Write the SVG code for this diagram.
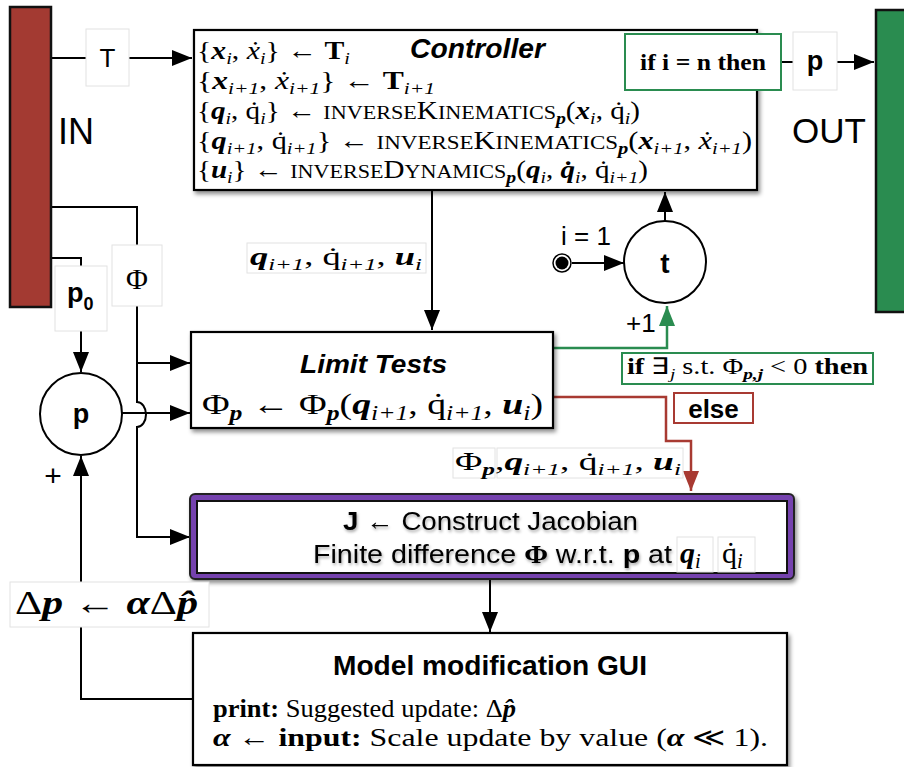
<svg xmlns="http://www.w3.org/2000/svg" width="904" height="767" viewBox="0 0 904 767">
<style>
.ln{fill:none;stroke:#000;stroke-width:2}
.box{fill:#fff;stroke:#000;stroke-width:2.2}
.lbl{fill:#fff;stroke:#e2e2e2;stroke-width:1}
.sans{font-family:"Liberation Sans",Arial,sans-serif}
.serif{font-family:"Liberation Serif","Times New Roman",serif}
.m{font-family:"Liberation Serif","Times New Roman",serif;fill:#000}
.bv{font-weight:bold;font-style:italic}
.it{font-style:italic}
.sb{font-size:0.68em;font-style:italic}
.sbb{font-size:0.68em;font-style:italic;font-weight:bold}
.sc{font-size:0.76em}
.b{font-weight:bold}
</style>
<defs>
<marker id="ah" viewBox="0 0 20 16" refX="20" refY="8" markerWidth="20" markerHeight="16" markerUnits="userSpaceOnUse" orient="auto"><path d="M0,0 L20,8 L0,16 z" fill="#000"/></marker>
<marker id="ahg" viewBox="0 0 20 16" refX="20" refY="8" markerWidth="20" markerHeight="16" markerUnits="userSpaceOnUse" orient="auto"><path d="M0,0 L20,8 L0,16 z" fill="#2A8C50"/></marker>
<marker id="ahr" viewBox="0 0 20 16" refX="20" refY="8" markerWidth="20" markerHeight="16" markerUnits="userSpaceOnUse" orient="auto"><path d="M0,0 L20,8 L0,16 z" fill="#A83A32"/></marker>
<filter id="sh" x="-5%" y="-10%" width="110%" height="130%"><feDropShadow dx="2" dy="3" stdDeviation="2" flood-color="#000" flood-opacity="0.45"/></filter>
<filter id="tsh" x="-5%" y="-20%" width="110%" height="150%"><feDropShadow dx="1" dy="2" stdDeviation="1.5" flood-color="#000" flood-opacity="0.35"/></filter>
</defs>

<g id="connectors">
  <path class="ln" d="M51,58 H86"/>
  <path class="ln" d="M129,58 H192" marker-end="url(#ah)"/>
  <path class="ln" d="M51,207 H137 V245"/>
  <path class="ln" d="M51,258 H81 V266"/>
  <path class="ln" d="M81,331 V372" marker-end="url(#ah)"/>
  <path class="ln" d="M137,306 V402 A9,12.5 0 0 1 137,427 V537 H190" marker-end="url(#ah)"/>
  <path class="ln" d="M137,363 H190" marker-end="url(#ah)"/>
  <path class="ln" d="M122,413 H190" marker-end="url(#ah)"/>
  <path class="ln" d="M432,191 V330" marker-end="url(#ah)"/>
  <path class="ln" d="M665,221 V192" marker-end="url(#ah)"/>
  <path class="ln" d="M572,263 H624" marker-end="url(#ah)"/>
  <path d="M553,348 H667 V306" fill="none" stroke="#2A8C50" stroke-width="2.5" marker-end="url(#ahg)"/>
  <path d="M553,397 H666 V441 H691 V491" fill="none" stroke="#A83A32" stroke-width="2.5" marker-end="url(#ahr)"/>
  <path class="ln" d="M781,62 H793"/>
  <path class="ln" d="M837,62 H874" marker-end="url(#ah)"/>
  <path class="ln" d="M490,576 V632" marker-end="url(#ah)"/>
  <path class="ln" d="M193,699 H81 V627"/>
  <path class="ln" d="M81,582 V456" marker-end="url(#ah)"/>
</g>

<g id="in">
  <rect x="10" y="7" width="41" height="300" fill="#A33A32" stroke="#111" stroke-width="2.5"/>
  <text x="58" y="144" class="sans" font-size="36">IN</text>
</g>
<g id="out">
  <rect x="876" y="10" width="34" height="302" fill="#2A8C50" stroke="#111" stroke-width="2.5"/>
  <text x="792" y="143" class="sans" font-size="35">OUT</text>
</g>

<g id="lbl-T">
  <rect class="lbl" x="86" y="29" width="43" height="57"/>
  <text x="107.5" y="67" class="sans" font-size="26" text-anchor="middle">T</text>
</g>
<g id="lbl-phi">
  <rect class="lbl" x="112" y="245" width="50" height="61"/>
  <text x="137" y="289" class="serif" font-size="30" text-anchor="middle">Φ</text>
</g>
<g id="lbl-p0">
  <rect class="lbl" x="55" y="266" width="52" height="65"/>
  <text x="67" y="302" class="sans b" font-size="27">p<tspan font-size="18" dy="8">0</tspan></text>
</g>

<g id="controller">
  <rect class="box" x="194" y="30" width="563" height="160" filter="url(#sh)"/>
  <text x="410" y="58" class="sans b it" font-size="27" textLength="135" lengthAdjust="spacingAndGlyphs">Controller</text>
  <text class="m" style="font-size:25px" x="197" y="59" textLength="153" lengthAdjust="spacingAndGlyphs">{<tspan class="bv">x</tspan><tspan class="sb" dy="5">i</tspan><tspan dy="-5">, </tspan><tspan class="it">ẋ</tspan><tspan class="sb" dy="5">i</tspan><tspan dy="-5">} ← </tspan><tspan class="b">T</tspan><tspan class="sb" dy="5">i</tspan></text>
  <text class="m" style="font-size:25px" x="197" y="89" textLength="238" lengthAdjust="spacingAndGlyphs">{<tspan class="bv">x</tspan><tspan class="sb" dy="5">i+1</tspan><tspan dy="-5">, </tspan><tspan class="it">ẋ</tspan><tspan class="sb" dy="5">i+1</tspan><tspan dy="-5">} ← </tspan><tspan class="b">T</tspan><tspan class="sb" dy="5">i+1</tspan></text>
  <text class="m" style="font-size:25px" x="197" y="119" textLength="443" lengthAdjust="spacingAndGlyphs">{<tspan class="bv">q</tspan><tspan class="sb" dy="5">i</tspan><tspan dy="-5">, q̇</tspan><tspan class="sb" dy="5">i</tspan><tspan dy="-5">} ← </tspan><tspan class="sc">INVERSE</tspan>K<tspan class="sc">INEMATICS</tspan><tspan class="sbb" dy="5">p</tspan><tspan dy="-5">(</tspan><tspan class="bv">x</tspan><tspan class="sb" dy="5">i</tspan><tspan dy="-5">, q̇</tspan><tspan class="sb" dy="5">i</tspan><tspan dy="-5">)</tspan></text>
  <text class="m" style="font-size:25px" x="197" y="149" textLength="555" lengthAdjust="spacingAndGlyphs">{<tspan class="bv">q</tspan><tspan class="sb" dy="5">i+1</tspan><tspan dy="-5">, q̇</tspan><tspan class="sb" dy="5">i+1</tspan><tspan dy="-5">} ← </tspan><tspan class="sc">INVERSE</tspan>K<tspan class="sc">INEMATICS</tspan><tspan class="sbb" dy="5">p</tspan><tspan dy="-5">(</tspan><tspan class="bv">x</tspan><tspan class="sb" dy="5">i+1</tspan><tspan dy="-5">, </tspan><tspan class="it">ẋ</tspan><tspan class="sb" dy="5">i+1</tspan><tspan dy="-5">)</tspan></text>
  <text class="m" style="font-size:25px" x="197" y="178" textLength="451" lengthAdjust="spacingAndGlyphs">{<tspan class="bv">u</tspan><tspan class="sb" dy="5">i</tspan><tspan dy="-5">} ← </tspan><tspan class="sc">INVERSE</tspan>D<tspan class="sc">YNAMICS</tspan><tspan class="sbb" dy="5">p</tspan><tspan dy="-5">(</tspan><tspan class="bv">q</tspan><tspan class="sb" dy="5">i</tspan><tspan dy="-5">, </tspan><tspan class="bv">q̇</tspan><tspan class="sb" dy="5">i</tspan><tspan dy="-5">, q̇</tspan><tspan class="sb" dy="5">i+1</tspan><tspan dy="-5">)</tspan></text>
</g>

<g id="cond-end">
  <rect x="625" y="34" width="156" height="56" fill="#fff" stroke="#2A8C50" stroke-width="2"/>
  <text x="703" y="70" class="serif b" font-size="23" text-anchor="middle" textLength="126" lengthAdjust="spacingAndGlyphs">if i = n then</text>
</g>
<g id="lbl-p">
  <rect class="lbl" x="793" y="32" width="44" height="58"/>
  <text x="815" y="70" class="sans b" font-size="27" text-anchor="middle">p</text>
</g>

<g id="lbl-q">
  <rect class="lbl" x="247" y="243" width="179" height="30"/>
  <text class="m" style="font-size:26px" x="250" y="265" textLength="172" lengthAdjust="spacingAndGlyphs"><tspan class="bv">q</tspan><tspan class="sb" dy="5">i+1</tspan><tspan dy="-5">, q̇</tspan><tspan class="sb" dy="5">i+1</tspan><tspan dy="-5">, </tspan><tspan class="bv">u</tspan><tspan class="sb" dy="5">i</tspan></text>
</g>

<g id="counter">
  <circle cx="665" cy="262" r="41" fill="#fff" stroke="#000" stroke-width="2"/>
  <text x="665" y="273" class="sans b" font-size="28" text-anchor="middle">t</text>
  <circle cx="562" cy="263" r="9" fill="#fff" stroke="#000" stroke-width="1.5"/>
  <circle cx="562" cy="263" r="6.5" fill="#000"/>
  <text x="561" y="245" class="sans" font-size="26">i = 1</text>
  <text x="626" y="332" class="sans" font-size="26">+1</text>
</g>

<g id="limit-tests">
  <rect class="box" x="191" y="332" width="362" height="96" filter="url(#sh)"/>
  <text x="300" y="373" class="sans b it" font-size="26" textLength="147" lengthAdjust="spacingAndGlyphs">Limit Tests</text>
  <text class="m" style="font-size:30px" x="202" y="414" textLength="341" lengthAdjust="spacingAndGlyphs">Φ<tspan class="sbb" dy="6">p</tspan><tspan dy="-6"> ← Φ</tspan><tspan class="sbb" dy="6">p</tspan><tspan dy="-6">(</tspan><tspan class="bv">q</tspan><tspan class="sb" dy="6">i+1</tspan><tspan dy="-6">, q̇</tspan><tspan class="sb" dy="6">i+1</tspan><tspan dy="-6">, </tspan><tspan class="bv">u</tspan><tspan class="sb" dy="6">i</tspan><tspan dy="-6">)</tspan></text>
</g>

<g id="cond-limit">
  <rect x="622" y="353" width="251" height="31" fill="#fff" stroke="#2A8C50" stroke-width="2"/>
  <text class="m" style="font-size:23px" x="627" y="374" textLength="241" lengthAdjust="spacingAndGlyphs"><tspan class="b">if</tspan>  ∃<tspan class="sb" dy="5">j</tspan><tspan dy="-5"> s.t. Φ</tspan><tspan class="sbb" dy="5">p,j</tspan><tspan dy="-5"> &lt; 0 </tspan><tspan class="b">then</tspan></text>
</g>
<g id="cond-else">
  <rect x="674" y="393" width="79" height="30" fill="#fff" stroke="#A83A32" stroke-width="2"/>
  <text x="713.5" y="418" class="sans b" font-size="26" text-anchor="middle">else</text>
</g>

<g id="lbl-phi-q">
  <rect class="lbl" x="453" y="448" width="42" height="30"/>
  <rect class="lbl" x="497" y="448" width="186" height="30"/>
  <text class="m" style="font-size:26px" x="455" y="470" textLength="226" lengthAdjust="spacingAndGlyphs">Φ<tspan class="sbb" dy="5">p</tspan><tspan dy="-5">,</tspan><tspan class="bv">q</tspan><tspan class="sb" dy="5">i+1</tspan><tspan dy="-5">, q̇</tspan><tspan class="sb" dy="5">i+1</tspan><tspan dy="-5">, </tspan><tspan class="bv">u</tspan><tspan class="sb" dy="5">i</tspan></text>
</g>

<g id="jacobian">
  <rect x="190" y="494" width="604" height="85" rx="5" fill="#7443AE" stroke="#222" stroke-width="2" filter="url(#sh)"/>
  <rect x="197" y="501" width="590" height="72" fill="#fff" stroke="#111" stroke-width="2"/>
  <text x="343" y="530" class="sans" font-size="25" filter="url(#tsh)" textLength="295" lengthAdjust="spacingAndGlyphs"><tspan class="b">J</tspan> ← Construct Jacobian</text>
  <text x="313" y="563" class="sans" font-size="25" filter="url(#tsh)" textLength="359" lengthAdjust="spacingAndGlyphs">Finite difference <tspan class="serif b">Φ</tspan> w.r.t. <tspan class="b">p</tspan> at</text>
  <rect class="lbl" x="677" y="537" width="36" height="35"/>
  <rect class="lbl" x="718" y="537" width="37" height="35"/>
  <text class="m" style="font-size:30px" x="680" y="563"><tspan class="bv">q</tspan><tspan class="sb" dy="5">i</tspan></text>
  <text class="m" style="font-size:30px" x="722" y="563">q̇<tspan class="sb" dy="5">i</tspan></text>
</g>

<g id="gui">
  <rect class="box" x="193" y="633" width="594" height="132" filter="url(#sh)"/>
  <text x="490" y="675" class="sans b" font-size="28" text-anchor="middle" textLength="314" lengthAdjust="spacingAndGlyphs">Model modification GUI</text>
  <text class="m" style="font-size:26px" x="213" y="717" textLength="303" lengthAdjust="spacingAndGlyphs"><tspan class="b">print:</tspan> Suggested update: Δ<tspan class="bv">p̂</tspan></text>
  <text class="m" style="font-size:26px" x="213" y="746" textLength="555" lengthAdjust="spacingAndGlyphs"><tspan class="bv">α</tspan> ← <tspan class="b">input:</tspan> Scale update by value (<tspan class="bv">α</tspan> ≪ 1).</text>
</g>

<g id="lbl-dp">
  <rect class="lbl" x="10" y="582" width="199" height="45"/>
  <text class="m" style="font-size:33px" x="15" y="614" textLength="183" lengthAdjust="spacingAndGlyphs">Δ<tspan class="bv">p</tspan> ← <tspan class="bv">α</tspan>Δ<tspan class="bv">p̂</tspan></text>
</g>

<g id="sum-p">
  <circle cx="81" cy="414" r="41" fill="#fff" stroke="#000" stroke-width="2"/>
  <text x="81" y="423" class="sans b" font-size="27" text-anchor="middle">p</text>
  <text x="53" y="486" class="sans" font-size="30" text-anchor="middle">+</text>
</g>
</svg>
